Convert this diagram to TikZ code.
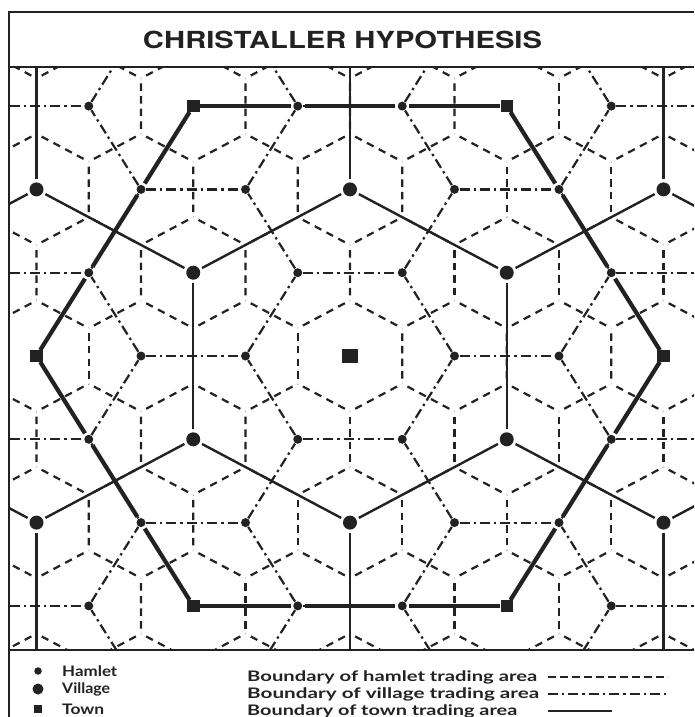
\documentclass[tikz,border=0pt]{standalone}
\usepackage{fontspec}
\usepackage{graphicx}
\usetikzlibrary{decorations}
\setmainfont{Lato}
\newfontfamily\titlefont{TeX Gyre Heros}
\definecolor{ink}{HTML}{222222}
\begin{document}
\begin{tikzpicture}[x=1pt,y=-1pt,
  hamb/.style={ink, line width=2.2pt, dash pattern=on 7.5pt off 4.5pt, dash expand off},
  vilb/.style={ink, line width=2.2pt, dash pattern=on 10pt off 4pt on 2.4pt off 4pt},
  townb/.style={ink, line width=2.4pt},
  bigb/.style={ink, line width=4.2pt},
  framel/.style={ink, line width=2.4pt},
  legtxt/.style={anchor=west, inner sep=0pt, font=\bfseries\fontsize{14.5}{16}\selectfont, text=ink},
  hamdot/.style={circle, fill=ink, inner sep=0pt, minimum size=9pt},
  vildot/.style={circle, fill=ink, inner sep=0pt, minimum size=14pt},
  townsq/.style={rectangle, fill=ink, inner sep=0pt, minimum width=12.5pt, minimum height=11.5pt}]
\useasboundingbox (0,0) rectangle (694,717);
\fill[white] (0,0) rectangle (694,717);

% ---------------- map ----------------
\begin{scope}
\clip (9,67) rectangle (694,650);
\begin{scope}[shift={(350,356)}, x={(104.5pt,0pt)}, y={(52.25pt,83.3pt)}]
  % hamlet trading area boundaries (hexagons around every centre)
  \foreach \i in {-9,...,9}{
    \foreach \j in {-5,...,5}{
      \draw[hamb] (\i+1/3,\j+1/3) -- (\i+2/3,\j-1/3);
      \draw[hamb] (\i+1/3,\j+1/3) -- (\i-1/3,\j+2/3);
      \draw[hamb] (\i-1/3,\j+2/3) -- (\i-2/3,\j+1/3);
    }}
  % village trading area boundaries (hamlet to hamlet)
  \foreach \i in {-9,...,9}{
    \foreach \j in {-5,...,5}{
      \pgfmathtruncatemacro\v{mod(\i-\j+30,3)}
      \ifnum\v=1
        \draw[vilb, shorten <=5pt, shorten >=5pt] (\i,\j) -- (\i+1,\j);
        \draw[vilb, shorten <=5pt, shorten >=5pt] (\i,\j) -- (\i-1,\j+1);
      \fi
      \ifnum\v=2
        \draw[vilb, shorten <=5pt, shorten >=5pt] (\i,\j) -- (\i,\j+1);
      \fi
    }}
  % town trading area boundaries (village to village)
  \foreach \i in {-9,...,9}{
    \foreach \j in {-5,...,5}{
      \pgfmathtruncatemacro\v{mod(\i-\j+30,3)}
      \pgfmathtruncatemacro\t{(mod(\i+30,3)==0)&&(mod(\j+30,3)==0)}
      \ifnum\v=0 \ifnum\t=0
        \foreach \a/\b in {1/1,-1/2,2/-1}{
          \pgfmathtruncatemacro\tt{(mod(\i+\a+30,3)==0)&&(mod(\j+\b+30,3)==0)}
          \ifnum\tt=0
            \draw[townb, shorten <=10pt, shorten >=10pt] (\i,\j) -- (\i+\a,\j+\b);
          \fi
        }
      \fi\fi
    }}
  % heavy hexagon joining the six towns
  \foreach \sx/\sy/\dx/\dy in {-3/3/1/0, 0/3/1/-1, 3/0/0/-1, 3/-3/-1/0, 0/-3/-1/1, -3/0/0/1}{
    \foreach \k in {0,1,2}{
      \draw[bigb, shorten <=7pt, shorten >=7pt]
        (\sx+\k*\dx,\sy+\k*\dy) -- (\sx+\k*\dx+\dx,\sy+\k*\dy+\dy);
    }}
  % centres
  \foreach \i in {-9,...,9}{
    \foreach \j in {-5,...,5}{
      \pgfmathtruncatemacro\v{mod(\i-\j+30,3)}
      \pgfmathtruncatemacro\t{(mod(\i+30,3)==0)&&(mod(\j+30,3)==0)}
      \ifnum\t=1
        \ifnum\i=0 \ifnum\j=0
          \node[townsq, minimum width=16pt, minimum height=14pt] (c\i\j) at (\i,\j) {};
        \else
          \node[townsq] (c\i\j) at (\i,\j) {};
        \fi
        \else
          \node[townsq] (c\i\j) at (\i,\j) {};
        \fi
      \else
        \ifnum\v=0
          \node[vildot] (c\i\j) at (\i,\j) {};
        \else
          \node[hamdot] (c\i\j) at (\i,\j) {};
        \fi
      \fi
    }}
\end{scope}
\end{scope}

% ---------------- frame ----------------
\draw[framel] (694,12) -- (9,12) -- (9,717);
\draw[framel] (9,67) -- (694,67);
\draw[framel] (9,650) -- (694,650);

% ---------------- title ----------------
\node[inner sep=0pt, text=ink] (title) at (342.5,40)
  {\resizebox{399pt}{\height}{\titlefont\bfseries\fontsize{23.5}{26}\selectfont CHRISTALLER HYPOTHESIS}};

% ---------------- legend ----------------
\node[circle, fill=ink, inner sep=0pt, minimum size=7.5pt] (lgh) at (38,671) {};
\node[circle, fill=ink, inner sep=0pt, minimum size=11pt] (lgv) at (38,689) {};
\node[rectangle, fill=ink, inner sep=0pt, minimum size=8.5pt] (lgt) at (38,709) {};
\node[legtxt] (th) at (62,671) {\resizebox{55pt}{\height}{Hamlet}};
\node[legtxt] (tv) at (62,689) {\resizebox{48pt}{\height}{Village}};
\node[legtxt] (tt) at (62,709) {\resizebox{42pt}{\height}{Town}};

\node[legtxt] (bh) at (247,677) {\resizebox{290pt}{\height}{Boundary of hamlet trading area}};
\node[legtxt] (bv) at (247,694) {\resizebox{292pt}{\height}{Boundary of village trading area}};
\node[legtxt] (bt) at (247,711) {\resizebox{270pt}{\height}{Boundary of town trading area}};
\coordinate (sh1) at (548,677); \coordinate (sh2) at (668,677);
\coordinate (sv1) at (548,694); \coordinate (sv2) at (668,694);
\coordinate (st1) at (548,711); \coordinate (st2) at (612,711);
\draw[ink, line width=1.8pt, dash pattern=on 8pt off 4pt] (sh1) -- (sh2);
\draw[vilb, line width=1.8pt] (sv1) -- (sv2);
\draw[townb, line width=2pt] (st1) -- (st2);
\end{tikzpicture}
\end{document}
